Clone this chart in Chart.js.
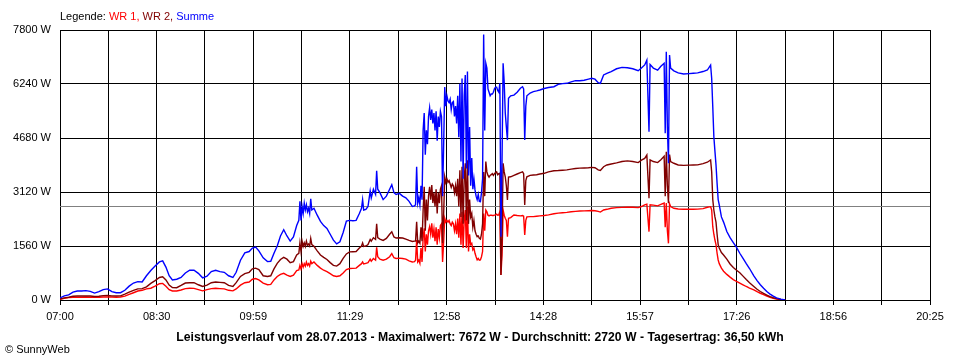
<!DOCTYPE html>
<html>
<head>
<meta charset="utf-8">
<title>SunnyWeb Leistungsverlauf</title>
<script src="https://cdn.jsdelivr.net/npm/chart.js@4.4.0/dist/chart.umd.min.js"></script>
<style>
  html, body { margin: 0; padding: 0; background: #fff; }
  #wrap { position: relative; width: 960px; height: 360px; font-family: 'Liberation Sans', Arial, sans-serif; }
  #powerChart { position: absolute; left: 0; top: 0; }
  .txt { position: absolute; white-space: nowrap; font-size: 11px; line-height: 11px; color: #000; }
  #legend { left: 60px; top: 11px; }
  #title { left: 480px; top: 330px; font-size: 13px; line-height: 13px; font-weight: bold; }
  #copyright { left: 5px; top: 344px; }
</style>
</head>
<body>
<div id="wrap">
  <canvas id="powerChart" width="960" height="360"></canvas>
  <div id="legend" class="txt">Legende: <span style="color:#ff0000">WR 1,</span> <span style="color:#800000">WR 2,</span> <span style="color:#0000ff">Summe</span></div>
  <div id="title" class="txt">Leistungsverlauf vom 28.07.2013 - Maximalwert: 7672 W - Durchschnitt: 2720 W - Tagesertrag: 36,50 kWh</div>
  <div id="copyright" class="txt">© SunnyWeb</div>
</div>
<script>
// Sample times (HH:MM)
const times = [
  // morning
  '07:00','07:04','07:08','07:12','07:16','07:20','07:24','07:28','07:32','07:36',
  '07:40','07:44','07:48','07:52','07:56','08:00','08:04','08:08','08:12','08:16',
  '08:20','08:24','08:28','08:32','08:35','08:38','08:41','08:44','08:48','08:52',
  '08:56','09:00','09:04','09:08','09:12','09:16','09:20','09:24','09:28','09:32',
  '09:36','09:40','09:43','09:47','09:51','09:55','09:58','10:01','10:04','10:08',
  '10:12','10:15','10:18','10:21','10:24','10:27','10:30','10:33','10:36','10:39',
  // late morning
  '10:41','10:42','10:43','10:44','10:45','10:46','10:47','10:48','10:49','10:50',
  '10:51','10:52','10:53','10:55','10:58','11:01','11:04','11:07','11:10','11:13',
  '11:16','11:19','11:22','11:25','11:28','11:31','11:34','11:37','11:39','11:40',
  '11:41','11:43','11:45','11:47','11:48','11:50','11:52','11:53','11:54','11:56',
  '11:59','12:02','12:05','12:07','12:09','12:11','12:14','12:17','12:20','12:23',
  '12:26','12:28',
  // clouds around noon
  '12:29','12:30','12:31','12:32','12:33','12:34','12:35','12:36','12:37','12:38',
  '12:39','12:40','12:41','12:42','12:43','12:44','12:45','12:46','12:47','12:48',
  '12:49','12:50','12:51','12:52','12:53','12:54','12:55','12:56','12:57','12:58',
  '12:59','13:00','13:01','13:02','13:03','13:04','13:05','13:06','13:07','13:08',
  '13:09','13:10','13:11','13:12','13:13','13:14','13:15','13:16','13:17','13:18',
  '13:19','13:20','13:21','13:22','13:23','13:24','13:25','13:26','13:27','13:28',
  '13:29','13:30','13:31','13:32','13:33','13:34','13:35','13:36','13:37','13:38',
  '13:39','13:40','13:41','13:42','13:43','13:44','13:45','13:46','13:47','13:48',
  '13:49','13:50','13:51','13:52','13:53','13:54','13:55','13:57',
  // afternoon
  '14:00','14:03','14:06','14:08','14:09','14:10','14:11','14:12','14:15','14:18',
  '14:21','14:24','14:28','14:32','14:37','14:41','14:45','14:49','14:53','14:57',
  '15:01','15:05','15:09','15:12','15:15','15:18','15:20','15:23','15:26','15:30',
  '15:35','15:40','15:45','15:50','15:55','15:58','16:01','16:03','16:05','16:06',
  '16:09','16:13','16:16','16:19','16:20','16:21','16:22','16:23','16:24','16:25',
  '16:28','16:32','16:37','16:42','16:46','16:50','16:55','16:59','17:02','17:03',
  '17:04','17:05','17:06','17:07','17:08','17:09','17:10','17:12','17:14','17:17',
  '17:20','17:23','17:26','17:29','17:32','17:35','17:38','17:42','17:45','17:48',
  '17:51','17:54','17:57','18:00','18:03','18:07','18:11'
];

// WR 1 (W)
const wr1 = [
  20,50,70,80,80,80,85,80,75,80,
  85,90,85,80,85,110,160,210,260,280,
  320,340,400,470,480,400,300,260,260,290,
  330,340,335,300,265,300,330,340,330,320,
  280,265,320,430,500,520,600,620,580,490,
  440,450,580,680,740,770,720,680,720,850,

  870,1000,900,1050,950,1050,980,1100,1000,1050,
  980,1120,1050,1100,1000,920,860,820,760,700,
  680,700,780,880,910,915,920,1000,1050,1100,
  1040,1060,1080,1180,1120,1200,1150,1520,1250,1180,
  1150,1180,1250,1340,1220,1200,1210,1200,1180,1130,
  1100,1110,

  1150,1730,1100,1150,1060,1500,1100,1800,2070,1400,
  1900,1600,2000,2120,1900,2215,1800,2050,1700,2100,
  1600,2050,1800,2150,2200,1100,1700,2360,2250,2300,
  2250,2300,2200,2150,2250,2200,2000,2200,1900,2350,
  1800,2500,1600,2550,1500,2300,2600,1500,2700,1400,
  1900,1600,1637,1450,1500,1350,1250,1160,1200,1150,
  1156,1250,1400,2500,2000,2600,2550,2450,2430,2450,
  2450,2440,2440,2450,2460,2480,2450,2460,2550,722,
  1300,2600,2450,2360,2300,1830,2360,2380,

  2456,2440,2430,2440,2420,1880,2300,2400,2410,2410,
  2420,2430,2440,2460,2490,2510,2520,2530,2550,2560,
  2570,2575,2580,2585,2580,2560,2540,2600,2620,2650,
  2670,2677,2680,2680,2670,2700,2750,2770,1974,2750,
  2740,2720,2760,2800,2100,2800,2000,1637,2780,2700,
  2650,2630,2620,2620,2620,2625,2640,2680,2696,2600,
  2118,1900,1733,1600,1350,1156,1050,920,830,740,
  660,590,535,490,440,390,345,290,240,195,
  155,116,80,50,30,10,0
];

// WR 2 (W)
const wr2 = [
  30,60,80,110,115,115,120,115,100,110,
  125,130,120,115,120,170,230,280,320,330,
  380,480,560,650,670,580,430,360,355,420,
  490,500,500,440,390,430,500,520,510,500,
  420,390,500,680,760,800,900,920,880,700,
  680,700,900,1060,1170,1230,1180,1080,1110,1300,

  1350,1650,1400,1700,1550,1650,1550,1700,1580,1620,
  1560,1780,1600,1550,1420,1300,1230,1170,1080,1000,
  980,1050,1200,1330,1390,1395,1400,1500,1560,1650,
  1550,1560,1600,1750,1700,1800,1750,2200,1800,1760,
  1720,1780,1900,1970,1820,1790,1800,1790,1760,1720,
  1690,1700,

  1700,2260,1650,1700,1640,2100,1700,2600,3270,2000,
  2900,2300,3000,3270,2900,3320,2800,3100,2700,3200,
  2500,3100,2800,3200,3300,1640,2500,3560,3400,3500,
  3400,3450,3350,3250,3350,3300,3100,3300,3000,3500,
  2700,3750,2400,3850,2200,3500,3950,2300,4040,2200,
  2900,2400,2500,2100,2300,2000,1900,1830,1850,1780,
  1760,1900,2200,3700,3000,4000,3700,3600,3550,3600,
  3620,3650,3600,3650,3680,3700,3620,3650,3660,720,
  1800,3950,3700,3560,3300,2890,3550,3560,

  3600,3640,3680,3700,3650,2744,3450,3560,3600,3611,
  3620,3640,3660,3700,3735,3740,3750,3760,3780,3800,
  3810,3815,3822,3830,3820,3760,3740,3850,3900,3930,
  3960,4000,4020,4000,3970,4040,4092,4189,2937,4050,
  4000,3970,4050,4150,3000,4285,3300,2793,4200,4000,
  3950,3900,3890,3895,3900,3905,3940,3980,4044,3700,
  2900,2600,2400,2250,1900,1600,1500,1370,1300,1180,
  1040,940,860,790,690,590,500,390,310,245,
  190,144,100,65,40,15,0
];

// Summe (W)
const summe = [
  60,120,150,230,260,260,270,250,200,240,
  300,320,240,210,210,280,400,490,530,520,
  700,850,980,1100,1130,950,700,580,600,650,
  780,860,860,770,640,690,820,860,820,800,
  700,650,800,1150,1360,1400,1500,1530,1420,1220,
  1110,1120,1350,1560,1850,2030,1850,1700,1820,2150,

  2300,2850,2300,2700,2500,2800,2600,2750,2550,2650,
  2500,2920,2600,2650,2450,2270,2150,2070,1900,1730,
  1620,1680,1950,2280,2300,2290,2300,2500,2650,2900,
  2600,2620,2700,3150,2950,3200,3050,3730,3200,3100,
  2900,3000,3200,3330,3100,3050,3080,3000,2950,2850,
  2700,2720,

  2750,3850,2800,2950,2750,3300,2900,4900,5400,4200,
  4900,4500,5300,5550,5200,5500,5100,5400,4900,5450,
  4600,5300,5000,5450,5300,3000,4500,6150,5600,5900,
  5750,5700,5800,5500,5700,5730,5300,5600,5100,5900,
  4700,6250,4000,6400,3500,5900,6500,3800,6600,3600,
  5000,3300,4100,3200,3500,3180,3000,2900,3050,2850,
  2840,3100,3500,7672,4900,6840,6700,6100,6000,5900,
  5950,5950,6000,6100,6150,6150,6050,6000,6260,1830,
  4000,6840,6300,5400,5000,4620,5830,5900,

  5920,6000,6116,6160,6100,4620,5600,5900,5980,6018,
  6040,6067,6110,6140,6162,6230,6250,6260,6300,6336,
  6336,6350,6380,6404,6380,6280,6260,6500,6549,6600,
  6680,6720,6710,6680,6625,6700,6790,6930,4860,6800,
  6700,6640,6750,6837,4815,7173,5000,3948,7078,6700,
  6620,6560,6530,6540,6550,6560,6600,6644,6789,6400,
  5585,4718,4300,3900,3370,2900,2750,2400,2250,1980,
  1800,1660,1520,1350,1200,1050,910,700,560,440,
  340,245,170,110,60,25,0
];

// Axis labels
const xTickLabels = ['07:00','08:30','09:59','11:29','12:58','14:28','15:57','17:26','18:56','20:25'];
const yTickValues = [0, 1560, 3120, 4680, 6240, 7800];
const averageW = 2720;

// "HH:MM" -> minutes after midnight
function toMinutes(hhmm) {
  const [h, m] = hhmm.split(':').map(Number);
  return h * 60 + m;
}

const xMin = toMinutes(xTickLabels[0]);
const xMax = toMinutes(xTickLabels[xTickLabels.length - 1]);
// one unlabelled grid line between two labels
const gridCount = (xTickLabels.length - 1) * 2;

function toPoints(values) {
  return values.map((v, i) => ({ x: toMinutes(times[i]), y: v }));
}

// Grey line for the average
const averageLinePlugin = {
  id: 'averageLine',
  beforeDatasetsDraw(chart) {
    const { ctx, chartArea, scales } = chart;
    const y = Math.round(scales.y.getPixelForValue(averageW)) + 0.5;
    ctx.save();
    ctx.strokeStyle = '#808080';
    ctx.lineWidth = 1;
    ctx.beginPath();
    ctx.moveTo(chartArea.left, y);
    ctx.lineTo(chartArea.right, y);
    ctx.stroke();
    ctx.restore();
  }
};

Chart.defaults.font.family = "'Liberation Sans', Arial, sans-serif";
Chart.defaults.font.size = 11;
Chart.defaults.color = '#000';

const lineStyle = { borderWidth: 1.4, pointRadius: 0, tension: 0, fill: false };

new Chart(document.getElementById('powerChart'), {
  type: 'line',
  data: {
    datasets: [
      { label: 'Summe', data: toPoints(summe), borderColor: '#0000ff', order: 0, ...lineStyle },
      { label: 'WR 2', data: toPoints(wr2), borderColor: '#800000', order: 1, ...lineStyle },
      { label: 'WR 1', data: toPoints(wr1), borderColor: '#ff0000', order: 2, ...lineStyle }
    ]
  },
  options: {
    responsive: false,
    animation: false,
    devicePixelRatio: 1,
    layout: { padding: { left: 0, right: 30, top: 30, bottom: 30 } },
    plugins: { legend: { display: false }, tooltip: { enabled: false } },
    scales: {
      x: {
        type: 'linear',
        min: xMin,
        max: xMax,
        afterBuildTicks: (scale) => {
          const ticks = [];
          for (let i = 0; i <= gridCount; i++) {
            ticks.push({ value: xMin + i * (xMax - xMin) / gridCount });
          }
          scale.ticks = ticks;
        },
        afterFit: (scale) => { scale.height = 30; },
        ticks: {
          autoSkip: false,
          maxRotation: 0,
          padding: 5,
          callback: (value, index) => (index % 2 === 0 ? xTickLabels[index / 2] : '')
        },
        grid: { color: '#000', lineWidth: 1, drawTicks: true, tickLength: 5, tickColor: '#000' },
        border: { color: '#000', width: 1 }
      },
      y: {
        min: yTickValues[0],
        max: yTickValues[yTickValues.length - 1],
        afterBuildTicks: (scale) => {
          scale.ticks = yTickValues.map(v => ({ value: v }));
        },
        afterFit: (scale) => { scale.width = 60; },
        ticks: {
          padding: 9,
          callback: (value) => value + ' W'
        },
        grid: { color: '#000', lineWidth: 1, drawTicks: false },
        border: { color: '#000', width: 1 }
      }
    }
  },
  plugins: [averageLinePlugin]
});

// squeeze the bold footer line to the width of the original
const titleEl = document.getElementById('title');
const squeeze = 607 / titleEl.offsetWidth;
titleEl.style.transform = `translateX(-50%) scaleX(${squeeze})`;
</script>
</body>
</html>
